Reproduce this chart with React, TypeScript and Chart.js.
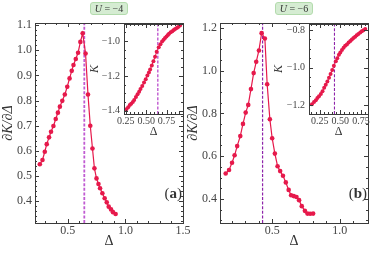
import React, { useEffect, useRef } from "react";
import { Chart, registerables } from "chart.js";
Chart.register(...registerables);

// ---------------- data ----------------
const deltaA = [0.257, 0.280, 0.300, 0.317, 0.337, 0.354, 0.375, 0.395, 0.414, 0.431, 0.452, 0.474, 0.495, 0.515, 0.534, 0.549, 0.569, 0.589, 0.609, 0.629, 0.654, 0.675, 0.695, 0.714, 0.731, 0.749, 0.766, 0.780, 0.800, 0.820, 0.838, 0.855, 0.875, 0.892, 0.915];
const dKdDeltaA = [0.547, 0.564, 0.597, 0.627, 0.654, 0.676, 0.699, 0.727, 0.752, 0.776, 0.799, 0.824, 0.855, 0.888, 0.918, 0.941, 0.965, 0.990, 1.033, 1.067, 0.987, 0.824, 0.700, 0.610, 0.531, 0.491, 0.469, 0.452, 0.432, 0.412, 0.396, 0.379, 0.368, 0.357, 0.350];
const kappaA = [-1.392, -1.380, -1.368, -1.360, -1.350, -1.338, -1.322, -1.306, -1.291, -1.276, -1.258, -1.238, -1.219, -1.198, -1.180, -1.164, -1.140, -1.116, -1.090, -1.062, -1.036, -1.018, -1.003, -0.992, -0.983, -0.974, -0.965, -0.958, -0.950, -0.943, -0.937, -0.931, -0.925, -0.919, -0.910];
const deltaCritA = 0.643;

const deltaB = [0.156, 0.181, 0.203, 0.222, 0.241, 0.264, 0.284, 0.304, 0.323, 0.343, 0.363, 0.382, 0.402, 0.422, 0.446, 0.463, 0.483, 0.500, 0.520, 0.540, 0.559, 0.580, 0.601, 0.622, 0.640, 0.660, 0.680, 0.699, 0.719, 0.742, 0.761, 0.781, 0.803];
const dKdDeltaB = [0.519, 0.535, 0.569, 0.604, 0.647, 0.694, 0.751, 0.804, 0.840, 0.914, 0.989, 1.042, 1.095, 1.176, 1.151, 0.937, 0.773, 0.684, 0.612, 0.553, 0.530, 0.508, 0.477, 0.442, 0.417, 0.413, 0.409, 0.394, 0.366, 0.344, 0.331, 0.330, 0.331];
const kappaB = [-1.196, -1.184, -1.174, -1.163, -1.153, -1.141, -1.126, -1.108, -1.092, -1.074, -1.054, -1.034, -1.013, -0.991, -0.966, -0.951, -0.932, -0.920, -0.906, -0.894, -0.884, -0.877, -0.867, -0.859, -0.851, -0.843, -0.836, -0.828, -0.821, -0.813, -0.807, -0.801, -0.794];
const deltaCritB = 0.429;

const mainXTicksA = [0.5, 1.0, 1.5];
const mainYTicksA = [0.4, 0.5, 0.6, 0.7, 0.8, 0.9, 1.0, 1.1];
const insetXTicksA = [0.25, 0.5, 0.75];
const insetYTicksA = [-1.4, -1.2, -1.0];
const mainXTicksB = [0.5, 1.0];
const mainYTicksB = [0.4, 0.6, 0.8, 1.0, 1.2];
const insetXTicksB = [0.25, 0.5, 0.75];
const insetYTicksB = [-1.2, -1.0, -0.8];

const titleA = "−4";
const titleB = "−6";

// ---------------- style ----------------
const W = 374;
const H = 253;
const SERIF = "'Liberation Serif', 'DejaVu Serif', serif";
const RED = "#e6194b";
const FRAME = "#3a3a3a";
const TXT = "#444444";

function fmt(v: number, dec: number) {
  const s = Math.abs(v).toFixed(dec);
  return v < 0 ? "−" + s : s;
}

function minorTicks(min: number, max: number, step: number) {
  const out: number[] = [];
  const start = Math.ceil(min / step - 1e-9);
  for (let i = start; i * step <= max + 1e-9; i++) out.push(i * step);
  return out;
}

const frameTicks = {
  id: "frameTicks",
  beforeDraw(chart: any, _a: any, o: any) {
    if (!o.fill) return;
    const { ctx, chartArea: c } = chart;
    ctx.save();
    ctx.fillStyle = "#ffffff";
    ctx.fillRect(c.left, c.top, c.right - c.left, c.bottom - c.top);
    ctx.restore();
  },
  afterDraw(chart: any, _a: any, o: any) {
    const { ctx, chartArea: c } = chart;
    const xs = chart.scales.x;
    const ys = chart.scales.y;
    ctx.save();
    ctx.strokeStyle = FRAME;
    ctx.lineWidth = 1;
    const seg = (x1: number, y1: number, x2: number, y2: number) => {
      ctx.beginPath();
      ctx.moveTo(x1, y1);
      ctx.lineTo(x2, y2);
      ctx.stroke();
    };
    const doX = (vals: number[], len: number) =>
      vals.forEach((v) => {
        const px = Math.round(xs.getPixelForValue(v)) + 0.5;
        if (px < c.left + 1 || px > c.right - 1) return;
        seg(px, c.bottom, px, c.bottom - len);
        seg(px, c.top, px, c.top + len);
      });
    const doY = (vals: number[], len: number) =>
      vals.forEach((v) => {
        const py = Math.round(ys.getPixelForValue(v)) + 0.5;
        if (py < c.top + 1 || py > c.bottom - 1) return;
        seg(c.left, py, c.left + len, py);
        seg(c.right, py, c.right - len, py);
      });
    doX(o.xMinor, o.minorLen);
    doY(o.yMinor, o.minorLen);
    doX(o.xMajor, o.majorLen);
    doY(o.yMajor, o.majorLen);
    ctx.strokeRect(Math.round(c.left) + 0.5, Math.round(c.top) + 0.5, Math.round(c.right - c.left), Math.round(c.bottom - c.top));
    if (o.label) {
      const size = o.labelSize;
      ctx.fillStyle = "#333";
      ctx.textBaseline = "alphabetic";
      ctx.font = `${size}px ${SERIF}`;
      const wo = ctx.measureText("(").width;
      const wc = ctx.measureText(")").width;
      ctx.font = `bold ${size}px ${SERIF}`;
      const wl = ctx.measureText(o.label).width;
      let x = c.right - o.labelRight - (wo + wl + wc);
      const y = c.bottom - o.labelUp;
      ctx.font = `${size}px ${SERIF}`;
      ctx.fillText("(", x, y);
      x += wo;
      ctx.font = `bold ${size}px ${SERIF}`;
      ctx.fillText(o.label, x, y);
      x += wl;
      ctx.font = `${size}px ${SERIF}`;
      ctx.fillText(")", x, y);
    }
    ctx.restore();
  },
};

type Panel = {
  xs: number[];
  ys: number[];
  crit: number;
  critColor: string;
  critWidth: number;
  xMin: number;
  xMax: number;
  yMin: number;
  yMax: number;
  xTicks: number[];
  yTicks: number[];
  xMinorStep: number;
  yMinorStep: number;
  xDec: number;
  yDec: number;
  left: number;
  top: number;
  right: number;
  bottom: number;
  yAxisW: number;
  xAxisH: number;
  tickSize: number;
  xTickPad: number;
  yTickPad: number;
  xTitle: string;
  yTitle: string;
  xTitleSize: number;
  yTitleSize: number;
  yTitleItalic: boolean;
  xTitlePad: number;
  pointR: number;
  lineW: number;
  fill: boolean;
  label?: string;
};

function buildConfig(p: Panel): any {
  return {
    type: "scatter",
    data: {
      datasets: [
        {
          data: p.xs.map((x, i) => ({ x, y: p.ys[i] })),
          showLine: true,
          borderColor: RED,
          backgroundColor: RED,
          borderWidth: p.lineW,
          pointRadius: p.pointR,
          pointBorderWidth: 0,
          pointHoverRadius: p.pointR,
        },
        {
          data: [
            { x: p.crit, y: p.yMin },
            { x: p.crit, y: p.yMax },
          ],
          showLine: true,
          borderColor: p.critColor,
          borderWidth: p.critWidth,
          borderDash: [3, 1.6],
          pointRadius: 0,
          pointHoverRadius: 0,
        },
      ],
    },
    options: {
      responsive: false,
      animation: false,
      devicePixelRatio: 1,
      events: [],
      layout: {
        padding: {
          left: p.left - p.yAxisW,
          right: W - p.right,
          top: p.top,
          bottom: H - p.bottom - p.xAxisH,
        },
      },
      plugins: {
        legend: { display: false },
        tooltip: { enabled: false },
        frameTicks: {
          fill: p.fill,
          xMajor: p.xTicks,
          yMajor: p.yTicks,
          xMinor: minorTicks(p.xMin, p.xMax, p.xMinorStep),
          yMinor: minorTicks(p.yMin, p.yMax, p.yMinorStep),
          majorLen: 4,
          minorLen: 2,
          label: p.label,
          labelSize: 15,
          labelRight: 1,
          labelUp: 25,
        },
      },
      scales: {
        x: {
          type: "linear",
          min: p.xMin,
          max: p.xMax,
          afterFit: (s: any) => {
            s.height = p.xAxisH;
          },
          afterBuildTicks: (s: any) => {
            s.ticks = p.xTicks.map((v) => ({ value: v }));
          },
          grid: { display: false, drawTicks: false },
          border: { display: false },
          ticks: {
            color: TXT,
            font: { family: SERIF, size: p.tickSize },
            padding: p.xTickPad,
            maxRotation: 0,
            autoSkip: false,
            callback: (v: number) => fmt(v, p.xDec),
          },
          title: {
            display: true,
            text: p.xTitle,
            color: "#333",
            font: { family: SERIF, size: p.xTitleSize },
            padding: { top: 0, bottom: p.xTitlePad },
          },
        },
        y: {
          type: "linear",
          min: p.yMin,
          max: p.yMax,
          afterFit: (s: any) => {
            s.width = p.yAxisW;
          },
          afterBuildTicks: (s: any) => {
            s.ticks = p.yTicks.map((v) => ({ value: v }));
          },
          grid: { display: false, drawTicks: false },
          border: { display: false },
          ticks: {
            color: TXT,
            font: { family: SERIF, size: p.tickSize },
            padding: p.yTickPad,
            autoSkip: false,
            callback: (v: number) => fmt(v, p.yDec),
          },
          title: {
            display: true,
            text: p.yTitle,
            color: "#333",
            font: { family: SERIF, size: p.yTitleSize, style: p.yTitleItalic ? "italic" : "normal" },
            padding: { top: 0, bottom: 0 },
          },
        },
      },
    },
    plugins: [frameTicks],
  };
}

const panels: Panel[] = [
  {
    xs: deltaA, ys: dKdDeltaA, crit: deltaCritA, critColor: "#c05bd2", critWidth: 1.8,
    xMin: 0.215, xMax: 1.5, yMin: 0.314, yMax: 1.108,
    xTicks: mainXTicksA, yTicks: mainYTicksA, xMinorStep: 0.1, yMinorStep: 0.02, xDec: 1, yDec: 1,
    left: 35, top: 23, right: 183, bottom: 223, yAxisW: 35, xAxisH: 30,
    tickSize: 12, xTickPad: 1, yTickPad: 3,
    xTitle: "Δ", yTitle: "∂K/∂Δ", xTitleSize: 14, yTitleSize: 14, yTitleItalic: true, xTitlePad: 3,
    pointR: 2.3, lineW: 1.2, fill: false, label: "a",
  },
  {
    xs: deltaB, ys: dKdDeltaB, crit: deltaCritB, critColor: "#8e24aa", critWidth: 1.2,
    xMin: 0.114, xMax: 1.209, yMin: 0.287, yMax: 1.2235,
    xTicks: mainXTicksB, yTicks: mainYTicksB, xMinorStep: 0.1, yMinorStep: 0.05, xDec: 1, yDec: 1,
    left: 220, top: 23, right: 368, bottom: 223, yAxisW: 35, xAxisH: 30,
    tickSize: 12, xTickPad: 1, yTickPad: 3,
    xTitle: "Δ", yTitle: "∂K/∂Δ", xTitleSize: 14, yTitleSize: 14, yTitleItalic: true, xTitlePad: 3,
    pointR: 2.3, lineW: 1.2, fill: false, label: "b",
  },
  {
    xs: deltaA, ys: kappaA, crit: deltaCritA, critColor: "#b43cc8", critWidth: 1.2,
    xMin: 0.229, xMax: 0.951, yMin: -1.419, yMax: -0.902,
    xTicks: insetXTicksA, yTicks: insetYTicksA, xMinorStep: 0.05, yMinorStep: 0.05, xDec: 2, yDec: 1,
    left: 124, top: 24, right: 183, bottom: 114, yAxisW: 36, xAxisH: 26,
    tickSize: 10, xTickPad: 1, yTickPad: 4,
    xTitle: "Δ", yTitle: "K", xTitleSize: 12, yTitleSize: 12, yTitleItalic: true, xTitlePad: 1,
    pointR: 2, lineW: 1, fill: true,
  },
  {
    xs: deltaB, ys: kappaB, crit: deltaCritB, critColor: "#8e24aa", critWidth: 1.1,
    xMin: 0.12, xMax: 0.836, yMin: -1.248, yMax: -0.768,
    xTicks: insetXTicksB, yTicks: insetYTicksB, xMinorStep: 0.05, yMinorStep: 0.05, xDec: 2, yDec: 1,
    left: 309, top: 24, right: 368, bottom: 114, yAxisW: 37, xAxisH: 26,
    tickSize: 10, xTickPad: 1, yTickPad: 4,
    xTitle: "Δ", yTitle: "K", xTitleSize: 12, yTitleSize: 12, yTitleItalic: true, xTitlePad: 1,
    pointR: 2, lineW: 1, fill: true,
  },
];

function PanelCanvas({ p }: { p: Panel }) {
  const ref = useRef<HTMLCanvasElement | null>(null);
  useEffect(() => {
    if (!ref.current) return;
    const chart = new Chart(ref.current, buildConfig(p));
    return () => chart.destroy();
  }, [p]);
  return (
    <canvas
      ref={ref}
      width={W}
      height={H}
      style={{ position: "absolute", left: 0, top: 0, width: W, height: H }}
    />
  );
}

function TitleBox({ center, value }: { center: number; value: string }) {
  return (
    <div
      style={{
        position: "absolute",
        left: center - 19,
        top: 2,
        width: 38,
        height: 13,
        boxSizing: "border-box",
        background: "#d5ecd2",
        border: "1px solid #b3dbad",
        borderRadius: 3,
        fontFamily: SERIF,
        fontSize: 10,
        lineHeight: "11px",
        textAlign: "center",
        color: "#333",
        whiteSpace: "nowrap",
      }}
    >
      <i>U</i> = {value}
    </div>
  );
}

export default function App() {
  return (
    <div style={{ position: "absolute", left: 0, top: 0, width: W, height: H, background: "#fff", overflow: "hidden" }}>
      {panels.map((p, i) => (
        <PanelCanvas key={i} p={p} />
      ))}
      <TitleBox center={109} value={titleA} />
      <TitleBox center={294} value={titleB} />
    </div>
  );
}
